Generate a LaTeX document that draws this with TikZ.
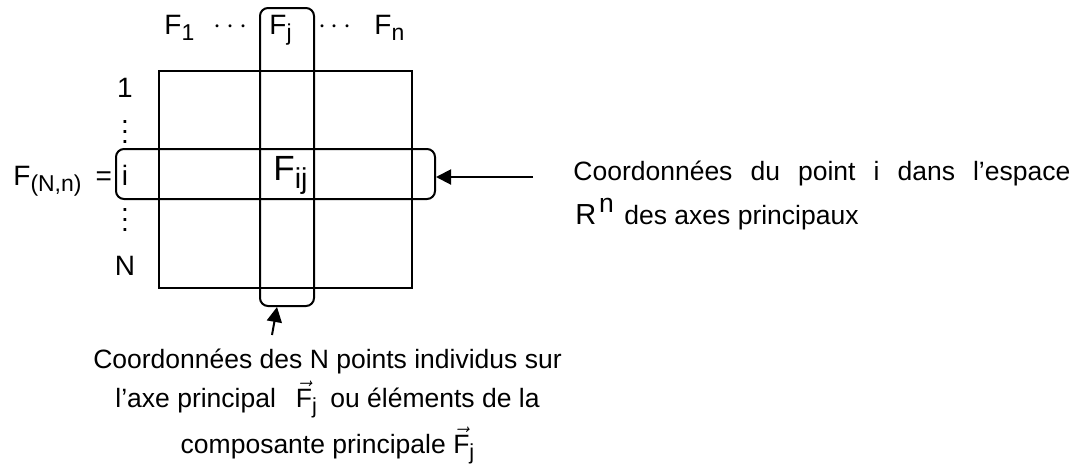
\documentclass[tikz,border=0pt]{standalone}
\usepackage{fontspec}
\setmainfont{Liberation Sans}
\usepackage{graphicx}
\usetikzlibrary{arrows.meta}

\newcommand\lowidx[1]{\raisebox{-0.24em}{\scalebox{0.82}{#1}}}
\newcommand\vecF{\ensuremath{\vec{\hbox{F}}}}
\newcommand\dotcol{\vbox{\baselineskip=5pt\lineskiplimit=-10pt\hbox{.}\hbox{.}\hbox{.}}}

\begin{document}
\begin{tikzpicture}[x=0.5pt, y=-0.5pt,
  frame/.style={draw, line width=1pt, inner sep=0pt},
  band/.style={frame, rounded corners=4pt},
  lbl/.style={inner sep=0pt, font=\fontsize{14}{16}\selectfont},
  txt/.style={inner sep=0pt, font=\fontsize{13.25}{16}\selectfont},
  pointer/.style={line width=1pt, -{Triangle[length=7.5pt, width=7.5pt]}}
]
  \useasboundingbox (0,0) rectangle (1074,472);

  % Matrix and the two highlighted bands
  \node[frame, minimum width=126.5pt, minimum height=108.5pt] (mat) at (285.5,179.5) {};
  \node[band, minimum width=159.5pt, minimum height=25pt] (rowband) at (275.5,174) {};
  \node[band, minimum width=27pt, minimum height=149pt] (colband) at (287,157) {};

  % Column labels
  \node[lbl, anchor=base west] (f1) at (164,34) {F\lowidx{1}};
  \node[lbl, anchor=base, font=\fontsize{15}{16}\selectfont] (hdots1) at (230.5,33) {$\cdots$};
  \node[lbl, anchor=base west] (fj) at (269,34) {F\lowidx{j}};
  \node[lbl, anchor=base, font=\fontsize{15}{16}\selectfont] (hdots2) at (335,33) {$\cdots$};
  \node[lbl, anchor=base west] (fn) at (374,34) {F\lowidx{n}};

  % Row labels
  \node[lbl, anchor=base] (r1) at (125,97) {1};
  \node[lbl] (vdots1) at (125,132) {\dotcol};
  \node[lbl, anchor=base] (ri) at (125,185) {i};
  \node[lbl] (vdots2) at (125,220) {\dotcol};
  \node[lbl, anchor=base] (rN) at (125,275) {N};

  \node[lbl, anchor=base west] (fmat) at (13,185) {F\lowidx{(N,n)}\hspace{7pt}=};
  \node[lbl, anchor=base west, font=\fontsize{17.5}{20}\selectfont] (fij) at (273,180) {F\lowidx{ij}};

  % Row explanation
  \node[txt, anchor=base west] (rowtxt) at (573,180)
    {\makebox[248.5pt][s]{Coordonnées du point i dans l’espace}};
  \node[txt, anchor=base west, font=\fontsize{14.5}{16}\selectfont] (rR) at (575,224) {R};
  \node[txt, anchor=base west] (rn) at (rR.base east) {\raisebox{6pt}{\hspace{1pt}n}};
  \node[txt, anchor=base west] (rowtxt2) at (624,224) {des axes principaux};
  \coordinate (rtail) at (533,177);
  \draw[pointer] (rtail) -- (rowband.east |- rtail);

  % Column explanation
  \node[txt, anchor=base] (coltxt1) at (327.5,368) {Coordonnées des N points individus sur};
  \node[txt, anchor=base] (coltxt2) at (327.5,407)
    {l’axe principal\hspace{10pt}\vecF\lowidx{j}\hspace{3pt} ou éléments de la};
  \node[txt, anchor=base] (coltxt3) at (327.5,453) {composante principale \vecF\lowidx{j}};
  \coordinate (btail) at (272,335);
  \draw[pointer] (btail) -- ([xshift=-5pt]colband.south);
\end{tikzpicture}
\end{document}
